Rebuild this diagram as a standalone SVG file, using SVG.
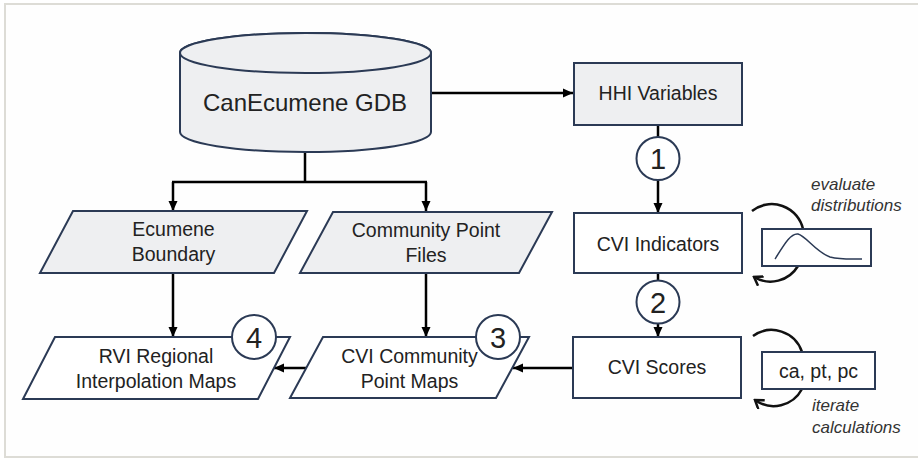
<svg xmlns="http://www.w3.org/2000/svg" width="918" height="459" viewBox="0 0 918 459">
<defs>
<style>
.shape{stroke:#2b3a55;stroke-width:2}
.gray{fill:#eeeff1}
.white{fill:#ffffff}
.lbl{font-family:"Liberation Sans",Arial,sans-serif;font-size:19.5px;fill:#222;text-anchor:middle}
.num{font-family:"Liberation Sans",Arial,sans-serif;font-size:29px;fill:#222;text-anchor:middle}
.note{font-family:"Liberation Sans",Arial,sans-serif;font-size:17px;font-style:italic;fill:#333}
.conn{fill:none;stroke:#000;stroke-width:2.5}
.arc{fill:none;stroke:#111;stroke-width:2.5}
</style>
<marker id="ah" viewBox="0 0 10 10" refX="10" refY="5" markerWidth="10" markerHeight="10" markerUnits="userSpaceOnUse" orient="auto">
<path d="M0,0.5 L10,5 L0,9.5 z" fill="#000"/>
</marker>
<marker id="oh" viewBox="0 0 12 12" refX="10" refY="6" markerWidth="12" markerHeight="12" markerUnits="userSpaceOnUse" orient="auto">
<path d="M2,0.5 L10,6 L2,11.5" fill="none" stroke="#111" stroke-width="2.5"/>
</marker>
</defs>
<rect x="0" y="0" width="918" height="459" fill="#ffffff"/>
<rect x="5" y="4" width="920" height="453" fill="#fefefe" stroke="#dddcd6" stroke-width="2"/>

<g id="connectors">
<path class="conn" d="M305,152 V182 M172,182 H427"/>
<path class="conn" d="M173,182 V211" marker-end="url(#ah)"/>
<path class="conn" d="M426,182 V211" marker-end="url(#ah)"/>
<path class="conn" d="M431,93 H573" marker-end="url(#ah)"/>
<path class="conn" d="M658,125 V137"/>
<path class="conn" d="M658,180 V213" marker-end="url(#ah)"/>
<path class="conn" d="M658,273 V281"/>
<path class="conn" d="M658,323 V337" marker-end="url(#ah)"/>
<path class="conn" d="M573,368 H513" marker-end="url(#ah)"/>
<path class="conn" d="M307,368 H274" marker-end="url(#ah)"/>
<path class="conn" d="M173,273 V337" marker-end="url(#ah)"/>
<path class="conn" d="M426,273 V337" marker-end="url(#ah)"/>
<path class="arc" d="M752,211 A32,32 0 0 1 803,229"/>
<path class="arc" d="M798,266 A32,32 0 0 1 754,277" marker-end="url(#oh)"/>
<path class="arc" d="M753,336 A32,32 0 0 1 802,352"/>
<path class="arc" d="M802,389 A32,32 0 0 1 755,400" marker-end="url(#oh)"/>
</g>

<g id="canecumene-gdb">
<path class="shape gray" d="M180,53 L180,132 A125.5,20 0 0 0 431,132 L431,53 A125.5,20 0 0 0 180,53 Z"/>
<ellipse class="shape gray" cx="305.5" cy="53" rx="125.5" ry="20"/>
<text class="lbl" x="305" y="111" style="font-size:24px">CanEcumene GDB</text>
</g>

<g id="hhi-variables">
<rect class="shape gray" x="574" y="63" width="168" height="62"/>
<text class="lbl" x="658" y="100">HHI Variables</text>
</g>

<g id="step-1">
<circle class="shape white" cx="658" cy="158.5" r="21.5"/>
<text class="num" x="658" y="169">1</text>
</g>

<g id="cvi-indicators">
<rect class="shape white" x="574" y="213" width="168" height="60"/>
<text class="lbl" x="658" y="251">CVI Indicators</text>
</g>

<g id="distribution-chart">
<rect class="shape white" x="762" y="229" width="109" height="37"/>
<path d="M775,259 C785,243 791,233 798,234 C806,236 816,252 830,257 C842,260 855,259 862,259" fill="none" stroke="#2b3a55" stroke-width="1.5"/>
<text class="note" x="811" y="190">evaluate</text>
<text class="note" x="811" y="211">distributions</text>
</g>

<g id="step-2">
<circle class="shape white" cx="658" cy="302" r="21.5"/>
<text class="num" x="658" y="312.5">2</text>
</g>

<g id="cvi-scores">
<rect class="shape white" x="573" y="337" width="168" height="61"/>
<text class="lbl" x="657" y="374">CVI Scores</text>
</g>

<g id="ca-pt-pc">
<rect class="shape white" x="762" y="352" width="113" height="37"/>
<text class="lbl" x="818.5" y="378">ca, pt, pc</text>
<text class="note" x="812" y="411">iterate</text>
<text class="note" x="812" y="433">calculations</text>
</g>

<g id="ecumene-boundary">
<path class="shape gray" d="M73,211 L307,211 L274,273 L40,273 Z"/>
<text class="lbl" x="173.5" y="236">Ecumene</text>
<text class="lbl" x="173.5" y="261">Boundary</text>
</g>

<g id="community-point-files">
<path class="shape gray" d="M333,212 L552,212 L519,273 L300,273 Z"/>
<text class="lbl" x="426" y="237">Community Point</text>
<text class="lbl" x="426" y="262">Files</text>
</g>

<g id="rvi-regional-maps">
<path class="shape white" d="M55,337 L290,337 L258,399 L23,399 Z"/>
<text class="lbl" x="156" y="363">RVI Regional</text>
<text class="lbl" x="156" y="388">Interpolation Maps</text>
</g>

<g id="step-4">
<circle class="shape white" cx="254" cy="337" r="22"/>
<text class="num" x="254" y="347.5">4</text>
</g>

<g id="cvi-community-maps">
<path class="shape white" d="M323,337 L529,337 L496,398 L290,398 Z"/>
<text class="lbl" x="409.5" y="363">CVI Community</text>
<text class="lbl" x="409.5" y="388">Point Maps</text>
</g>

<g id="step-3">
<circle class="shape white" cx="498" cy="337" r="22"/>
<text class="num" x="498" y="347.5">3</text>
</g>
</svg>
